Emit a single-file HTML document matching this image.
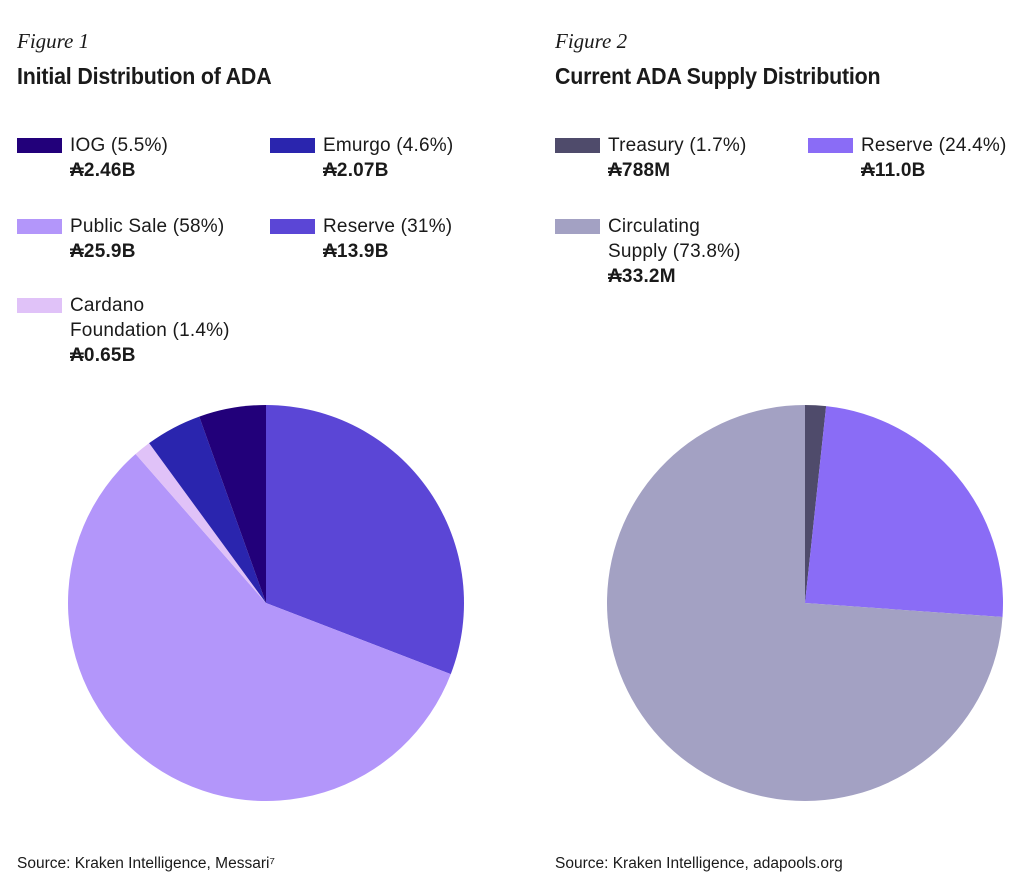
<!DOCTYPE html>
<html><head><meta charset="utf-8"><style>
body{margin:0;width:1024px;height:894px;background:#fff;position:relative;font-family:"Liberation Sans",sans-serif;color:#1a1a1a;overflow:hidden}
.a{position:absolute;white-space:nowrap}
.fig{font-family:"Liberation Serif",serif;font-style:italic;font-size:21px;top:29px}
.ttl{font-weight:bold;font-size:23.5px;top:63px;transform-origin:left top;transform:scaleX(0.91);letter-spacing:-0.2px}
.sw{position:absolute;width:45px;height:15px}
.lt{font-size:19px;line-height:25px;letter-spacing:0.2px}
.lt b{display:block}
.src{font-size:15.5px;top:855px;transform-origin:left top;transform:scaleX(1.0)}
</style></head><body>
<div class="a fig" style="left:17px">Figure 1</div>
<div class="a ttl" style="left:17px">Initial Distribution of ADA</div>
<div class="a fig" style="left:555px">Figure 2</div>
<div class="a ttl" style="left:555px">Current ADA Supply Distribution</div>
<div id="legends"></div>
<svg class="a" style="left:0;top:0" width="1024" height="894" id="pies"></svg>
<div class="a src" style="left:17px">Source: Kraken Intelligence, Messari⁷</div>
<div class="a src" style="left:555px">Source: Kraken Intelligence, adapools.org</div>
<script>
const pie1Labels=["Reserve (31%)","Public Sale (58%)","Cardano Foundation (1.4%)","Emurgo (4.6%)","IOG (5.5%)"];
const pie1Values=[31,58,1.4,4.6,5.5];
const pie1Colors=["#5b46d6","#b396fa","#e0c2f8","#2a25ae","#22007a"];
const pie2Labels=["Treasury (1.7%)","Reserve (24.4%)","Circulating Supply (73.8%)"];
const pie2Values=[1.7,24.4,73.8];
const pie2Colors=["#4f4b6b","#8a6cf6","#a3a1c3"];
const NS="http://www.w3.org/2000/svg";
const svg=document.getElementById('pies');
function drawPie(vals,cols,cx,cy,r,name){
  const tot=vals.reduce((a,b)=>a+b,0);let acc=0;
  vals.forEach((v,i)=>{
    const a0=acc/tot*2*Math.PI;acc+=v;const a1=acc/tot*2*Math.PI;
    const x0=cx+r*Math.sin(a0),y0=cy-r*Math.cos(a0),x1=cx+r*Math.sin(a1),y1=cy-r*Math.cos(a1);
    const p=document.createElementNS(NS,'path');
    p.setAttribute('d',`M${cx},${cy}L${x0},${y0}A${r},${r} 0 ${a1-a0>Math.PI?1:0} 1 ${x1},${y1}Z`);
    p.setAttribute('fill',cols[i]);
    
    
    svg.appendChild(p);
  });
}
drawPie(pie1Values,pie1Colors,266,603,198,'pie1');
drawPie(pie2Values,pie2Colors,805,603,198,'pie2');
const leg=document.getElementById('legends');
const items=[
 [17,137,"#22007a","IOG (5.5%)","₳2.46B"],
 [270,137,"#2a25ae","Emurgo (4.6%)","₳2.07B"],
 [17,218,"#b396fa","Public Sale (58%)","₳25.9B"],
 [270,218,"#5b46d6","Reserve (31%)","₳13.9B"],
 [17,297,"#e0c2f8","Cardano<br>Foundation (1.4%)","₳0.65B"],
 [555,137,"#4f4b6b","Treasury (1.7%)","₳788M"],
 [808,137,"#8a6cf6","Reserve (24.4%)","₳11.0B"],
 [555,218,"#a3a1c3","Circulating<br>Supply (73.8%)","₳33.2M"]];
items.forEach((it,i)=>{
  const s=document.createElement('div');s.className='sw';
  s.style.left=it[0]+'px';s.style.top=(it[1]+1)+'px';s.style.background=it[2];
  
  
  leg.appendChild(s);
  const t=document.createElement('div');t.className='a lt';
  t.style.left=(it[0]+53)+'px';t.style.top=(it[1]-4)+'px';
  t.innerHTML=it[3]+'<b>'+it[4]+'</b>';
  
  
  leg.appendChild(t);
});
</script>
</body></html>
